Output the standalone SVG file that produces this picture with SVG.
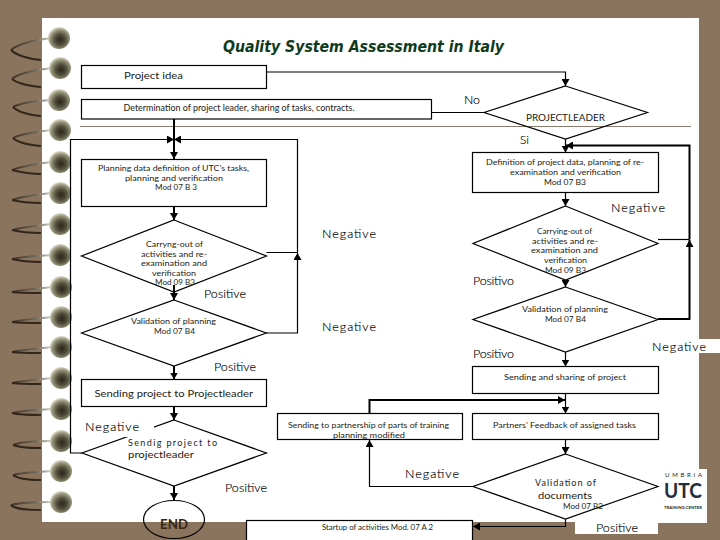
<svg xmlns="http://www.w3.org/2000/svg" width="720" height="540" viewBox="0 0 720 540">
<style>
text{font-family:"Lato","Liberation Sans",sans-serif;fill:#1c1c14}
.s{font-size:8px}
.m{font-size:9px}
.l{font-size:12.5px;font-weight:300;fill:#000;stroke:#000;stroke-width:0.15}
.t{font-family:"DejaVu Sans",sans-serif;font-size:15px;font-weight:bold;font-style:italic;fill:#0f3a20}
.e{font-size:13px;font-weight:bold;fill:#3a2610}
.shape{fill:none;stroke:#000;stroke-width:1.2}
.fill{fill:#fff;stroke:#000;stroke-width:1.2}
.c{fill:none;stroke:#000;stroke-width:1.2}
.k{fill:none;stroke:#000;stroke-width:2}
.a{marker-end:url(#ah)}
.up{fill:none;stroke:url(#wire);stroke-width:1.8}
.lo{fill:none;stroke:#33261b;stroke-width:2}
</style>
<defs>
<marker id="ah" markerUnits="userSpaceOnUse" markerWidth="8" markerHeight="8" refX="7" refY="4" orient="auto"><path d="M0 0L7 4L0 8Z" fill="#000"/></marker>
<radialGradient id="bead" cx="0.55" cy="0.58" r="0.6"><stop offset="0" stop-color="#2a261b"/><stop offset="0.4" stop-color="#514e3b"/><stop offset="0.75" stop-color="#98967c"/><stop offset="1" stop-color="#eceadb"/></radialGradient>
<linearGradient id="wire" x1="0" x2="1" y1="0" y2="0"><stop offset="0" stop-color="#3f3226"/><stop offset="0.6" stop-color="#6f6858"/><stop offset="1" stop-color="#dcdacc"/></linearGradient>
<circle id="b" r="11" fill="url(#bead)"/>
</defs>
<g id="page">
<rect width="720" height="540" fill="#8b745e"/>
<rect x="42" y="18" width="657" height="504" fill="#fff"/>
<rect x="650" y="339" width="70" height="14" fill="#fff"/>
<rect x="575" y="522" width="83" height="12" fill="#fff"/>
<rect x="658" y="469" width="49" height="54" fill="#fff"/>
<path d="M80 126.5H691" stroke="#8b7d6e" stroke-width="1" fill="none"/>
</g>
<g id="rings">
<path class="up" d="M52 38C34 40 18 44 11 50"/><path class="lo" d="M11 50C16 55 28 59 41 60"/><use href="#b" x="59" y="38"/>
<path class="up" d="M52 68C34 70 18 74 12 79"/><path class="lo" d="M12 79C18 84 30 86 41 87"/><use href="#b" x="60" y="68"/>
<path class="up" d="M52 100C34 101 20 103 13 107"/><path class="lo" d="M13 107C18 112 30 115 41 116"/><use href="#b" x="59" y="100"/>
<path class="up" d="M52 130C34 132 20 134 13 138"/><path class="lo" d="M13 138C18 143 30 145 41 146"/><use href="#b" x="60" y="130"/>
<path class="up" d="M52 162C34 164 20 167 12 170"/><path class="lo" d="M12 170C20 172 30 174 41 174"/><use href="#b" x="60" y="162"/>
<path class="up" d="M52 193C34 195 20 197 12 200"/><path class="lo" d="M12 200C20 202 30 203 41 203"/><use href="#b" x="60" y="193"/>
<path class="up" d="M52 224C34 226 20 228 12 230"/><path class="lo" d="M12 230C20 232 30 233 41 233"/><use href="#b" x="60" y="224"/>
<path class="up" d="M52 255C34 256 20 257 12 259"/><path class="lo" d="M12 259C20 261 30 262 41 262"/><use href="#b" x="60" y="255"/>
<path class="up" d="M52 287C34 289 20 290 12 292"/><path class="lo" d="M12 292C20 293 30 293 41 293"/><use href="#b" x="61" y="287"/>
<path class="up" d="M52 317C34 319 20 320 12 322"/><path class="lo" d="M12 322C20 323 30 323 41 323"/><use href="#b" x="61" y="317"/>
<path class="up" d="M52 347C34 349 20 350 12 352"/><path class="lo" d="M12 352C20 353 30 353 41 353"/><use href="#b" x="61" y="347"/>
<path class="up" d="M52 378C34 380 20 381 12 383"/><path class="lo" d="M12 383C20 384 30 384 41 384"/><use href="#b" x="61" y="378"/>
<path class="up" d="M52 409C34 410 20 411 12 413"/><path class="lo" d="M12 413C20 415 30 415 41 415"/><use href="#b" x="61" y="409"/>
<path class="up" d="M52 441C34 441 20 442 13 445"/><path class="lo" d="M13 445C20 448 30 448 41 448"/><use href="#b" x="61" y="441"/>
<path class="up" d="M52 471C34 472 20 473 13 475"/><path class="lo" d="M13 475C18 479 30 480 41 480"/><use href="#b" x="61" y="471"/>
<path class="up" d="M52 502C34 502 18 503 11 505"/><path class="lo" d="M11 505C16 510 30 510 41 510"/><use href="#b" x="61" y="502"/>
</g>
<g id="connectors">
<path class="c a" d="M266.5 72H565.5V86"/>
<path class="c" d="M484 112.5H431.5"/>
<path class="k a" d="M174 119V159"/>
<path class="k a" d="M174 206V220"/>
<path class="k a" d="M174 285V300"/>
<path class="k a" d="M174 366V379.5"/>
<path class="k a" d="M174 406.5V420"/>
<path class="k a" d="M174 486V500"/>
<path class="c a" d="M266.5 252.5H297.5V139.5H174"/>
<path class="c a" d="M266.5 333H297.5V253"/>
<path class="c a" d="M82 453H70.5V139.5H174"/>
<path class="c a" d="M565.5 139V152.5"/>
<path class="c a" d="M565.5 192V206"/>
<path class="c a" d="M565.5 280V287"/>
<path class="c a" d="M565.5 352V366.5"/>
<path class="c a" d="M565.5 393.5V413.5"/>
<path class="c a" d="M565.5 439.5V454"/>
<path class="c" d="M658 239.5H689.5"/>
<path class="k a" d="M689.5 239.5V145.5H566"/>
<path class="k a" d="M658 319H689.5V240"/>
<path class="k a" d="M369.5 413.5V400H565"/>
<path class="c a" d="M473 486.5H369.5V440"/>
<path class="c a" d="M565.5 519V526.5H473"/>
</g>
<text class="t" x="223" y="52" textLength="281" lengthAdjust="spacingAndGlyphs">Quality System Assessment in Italy</text>
<g id="project-idea"><rect class="fill" x="81.5" y="65.5" width="185" height="23"/><text class="m" x="124" y="79" textLength="59" lengthAdjust="spacingAndGlyphs">Project idea</text></g>
<g id="determination"><rect class="fill" x="81.5" y="99.5" width="350" height="19.5"/><text class="m" x="123.5" y="111" textLength="231" lengthAdjust="spacingAndGlyphs">Determination of project leader, sharing of tasks, contracts.</text></g>
<g id="project-leader"><path class="shape" d="M565.5 86L647.5 112.5L565.5 139L484 112.5Z"/><text class="m" x="526" y="121" textLength="79" lengthAdjust="spacingAndGlyphs">PROJECTLEADER</text></g>
<g id="planning-data"><rect class="fill" x="81.5" y="159.5" width="185" height="47"/>
<text class="s" x="98" y="171" textLength="151" lengthAdjust="spacingAndGlyphs">Planning data definition of  UTC's tasks,</text>
<text class="s" x="125" y="180.5" textLength="98" lengthAdjust="spacingAndGlyphs">planning and verification</text>
<text class="s" x="155" y="190" textLength="42" lengthAdjust="spacingAndGlyphs">Mod 07 B 3</text></g>
<g id="definition"><rect class="fill" x="472.5" y="152.5" width="186" height="40"/>
<text class="s" x="486" y="165" textLength="158" lengthAdjust="spacingAndGlyphs">Definition of project data, planning of re-</text>
<text class="s" x="510" y="175" textLength="111" lengthAdjust="spacingAndGlyphs">examination and verification</text>
<text class="s" x="544" y="184.5" textLength="42" lengthAdjust="spacingAndGlyphs">Mod 07 B3</text></g>
<g id="carrying-left"><path class="shape" d="M174 220L266.5 256L174 292L81.5 256Z"/>
<text class="s" x="146" y="247" textLength="57" lengthAdjust="spacingAndGlyphs">Carryng-out of</text>
<text class="s" x="141" y="256.5" textLength="66" lengthAdjust="spacingAndGlyphs">activities and  re-</text>
<text class="s" x="141" y="266" textLength="66" lengthAdjust="spacingAndGlyphs">examination and</text>
<text class="s" x="152" y="275.5" textLength="44" lengthAdjust="spacingAndGlyphs">verification</text>
<text class="s" x="155" y="285" textLength="40" lengthAdjust="spacingAndGlyphs">Mod 09 B3</text></g>
<g id="carrying-right"><path class="shape" d="M565.5 206L658 243.5L565.5 280L473 243.5Z"/>
<text class="s" x="537" y="234" textLength="55" lengthAdjust="spacingAndGlyphs">Carrying-out of</text>
<text class="s" x="532" y="243.5" textLength="66" lengthAdjust="spacingAndGlyphs">activities and  re-</text>
<text class="s" x="531" y="253" textLength="67" lengthAdjust="spacingAndGlyphs">examination and</text>
<text class="s" x="544" y="263" textLength="43" lengthAdjust="spacingAndGlyphs">verification</text>
<text class="s" x="545" y="272.5" textLength="41" lengthAdjust="spacingAndGlyphs">Mod 09 B3</text></g>
<g id="validation-left"><path class="shape" d="M174 300L266.5 333L174 366L81.5 333Z"/>
<text class="s" x="131" y="324" textLength="85" lengthAdjust="spacingAndGlyphs">Validation of planning</text>
<text class="s" x="154" y="334" textLength="41" lengthAdjust="spacingAndGlyphs">Mod 07 B4</text></g>
<g id="validation-right"><path class="shape" d="M565.5 287L658 319.5L565.5 352L473 319.5Z"/>
<text class="s" x="522" y="312" textLength="86" lengthAdjust="spacingAndGlyphs">Validation of planning</text>
<text class="s" x="545" y="321.5" textLength="41" lengthAdjust="spacingAndGlyphs">Mod 07 B4</text></g>
<g id="sending-project"><rect class="fill" x="81.5" y="379.5" width="185" height="27"/><text class="m" x="94.5" y="397" textLength="158.5" lengthAdjust="spacingAndGlyphs">Sending project to Projectleader</text></g>
<g id="sending-sharing"><rect class="fill" x="472.5" y="366.5" width="186" height="27"/><text class="s" x="504" y="380" textLength="122" lengthAdjust="spacingAndGlyphs">Sending and sharing of project</text></g>
<g id="sendig"><path class="shape" d="M174 420L266.5 453L174 486L82 453Z"/>
<rect x="84" y="420" width="70" height="17" fill="#fff"/>
<text class="m" x="128" y="446" textLength="89" lengthAdjust="spacing">Sendig  project  to</text>
<text class="m" x="128" y="458" textLength="66" lengthAdjust="spacingAndGlyphs">projectleader</text></g>
<g id="partnership"><rect class="fill" x="277.5" y="413.5" width="185" height="26"/>
<text class="s" x="288" y="428" textLength="161" lengthAdjust="spacingAndGlyphs">Sending to partnership of parts of training</text>
<text class="s" x="333" y="437.5" textLength="72" lengthAdjust="spacingAndGlyphs">planning modified</text></g>
<g id="feedback"><rect class="fill" x="472.5" y="413.5" width="186" height="26"/><text class="s" x="493" y="428" textLength="143" lengthAdjust="spacingAndGlyphs">Partners' Feedback of assigned tasks</text></g>
<g id="validation-documents"><path class="shape" d="M565.5 454L658 486.5L565.5 519L473 486.5Z"/>
<text class="m" x="535" y="486" textLength="61" lengthAdjust="spacing">Validation of</text>
<text class="m" x="538" y="499" textLength="54" lengthAdjust="spacingAndGlyphs">documents</text>
<text class="s" x="563" y="509" textLength="40" lengthAdjust="spacingAndGlyphs">Mod 07 B2</text></g>
<g id="end"><ellipse class="shape" cx="174" cy="519.5" rx="30.5" ry="19"/><text class="e" x="160" y="529" textLength="28" lengthAdjust="spacingAndGlyphs">END</text></g>
<g id="startup"><rect class="fill" x="246.5" y="520.5" width="226" height="21"/><text class="s" x="322" y="530" textLength="111" lengthAdjust="spacingAndGlyphs">Startup of activities Mod. 07 A 2</text></g>
<g id="labels">
<text class="l" x="464" y="104" textLength="16" lengthAdjust="spacingAndGlyphs">No</text>
<text class="l" x="520" y="144" textLength="9" lengthAdjust="spacingAndGlyphs">Si</text>
<text class="l" x="611" y="212" textLength="54" lengthAdjust="spacing">Negative</text>
<text class="l" x="322" y="238" textLength="54" lengthAdjust="spacing">Negative</text>
<text class="l" x="204" y="298" textLength="42" lengthAdjust="spacing">Positive</text>
<text class="l" x="473" y="285" textLength="41" lengthAdjust="spacing">Positivo</text>
<text class="l" x="322" y="331" textLength="54" lengthAdjust="spacing">Negative</text>
<text class="l" x="652" y="351" textLength="54" lengthAdjust="spacing">Negative</text>
<text class="l" x="214" y="371" textLength="42" lengthAdjust="spacing">Positive</text>
<text class="l" x="473" y="358" textLength="41" lengthAdjust="spacing">Positivo</text>
<text class="l" x="85" y="431" textLength="54" lengthAdjust="spacing">Negative</text>
<text class="l" x="225" y="492" textLength="42" lengthAdjust="spacing">Positive</text>
<text class="l" x="405" y="478" textLength="54" lengthAdjust="spacing">Negative</text>
<text class="l" x="596" y="532" textLength="42" lengthAdjust="spacing">Positive</text>
</g>
<g id="logo">
<text x="665" y="477" font-size="6" textLength="37" lengthAdjust="spacing">UMBRIA</text>
<text x="664" y="498" font-size="21" font-weight="bold" textLength="38" lengthAdjust="spacingAndGlyphs" style="fill:#262c3a">UTC</text>
<text x="664" y="509" font-size="4" font-weight="bold" textLength="38" lengthAdjust="spacingAndGlyphs">TRAINING CENTER</text>
</g>
</svg>
